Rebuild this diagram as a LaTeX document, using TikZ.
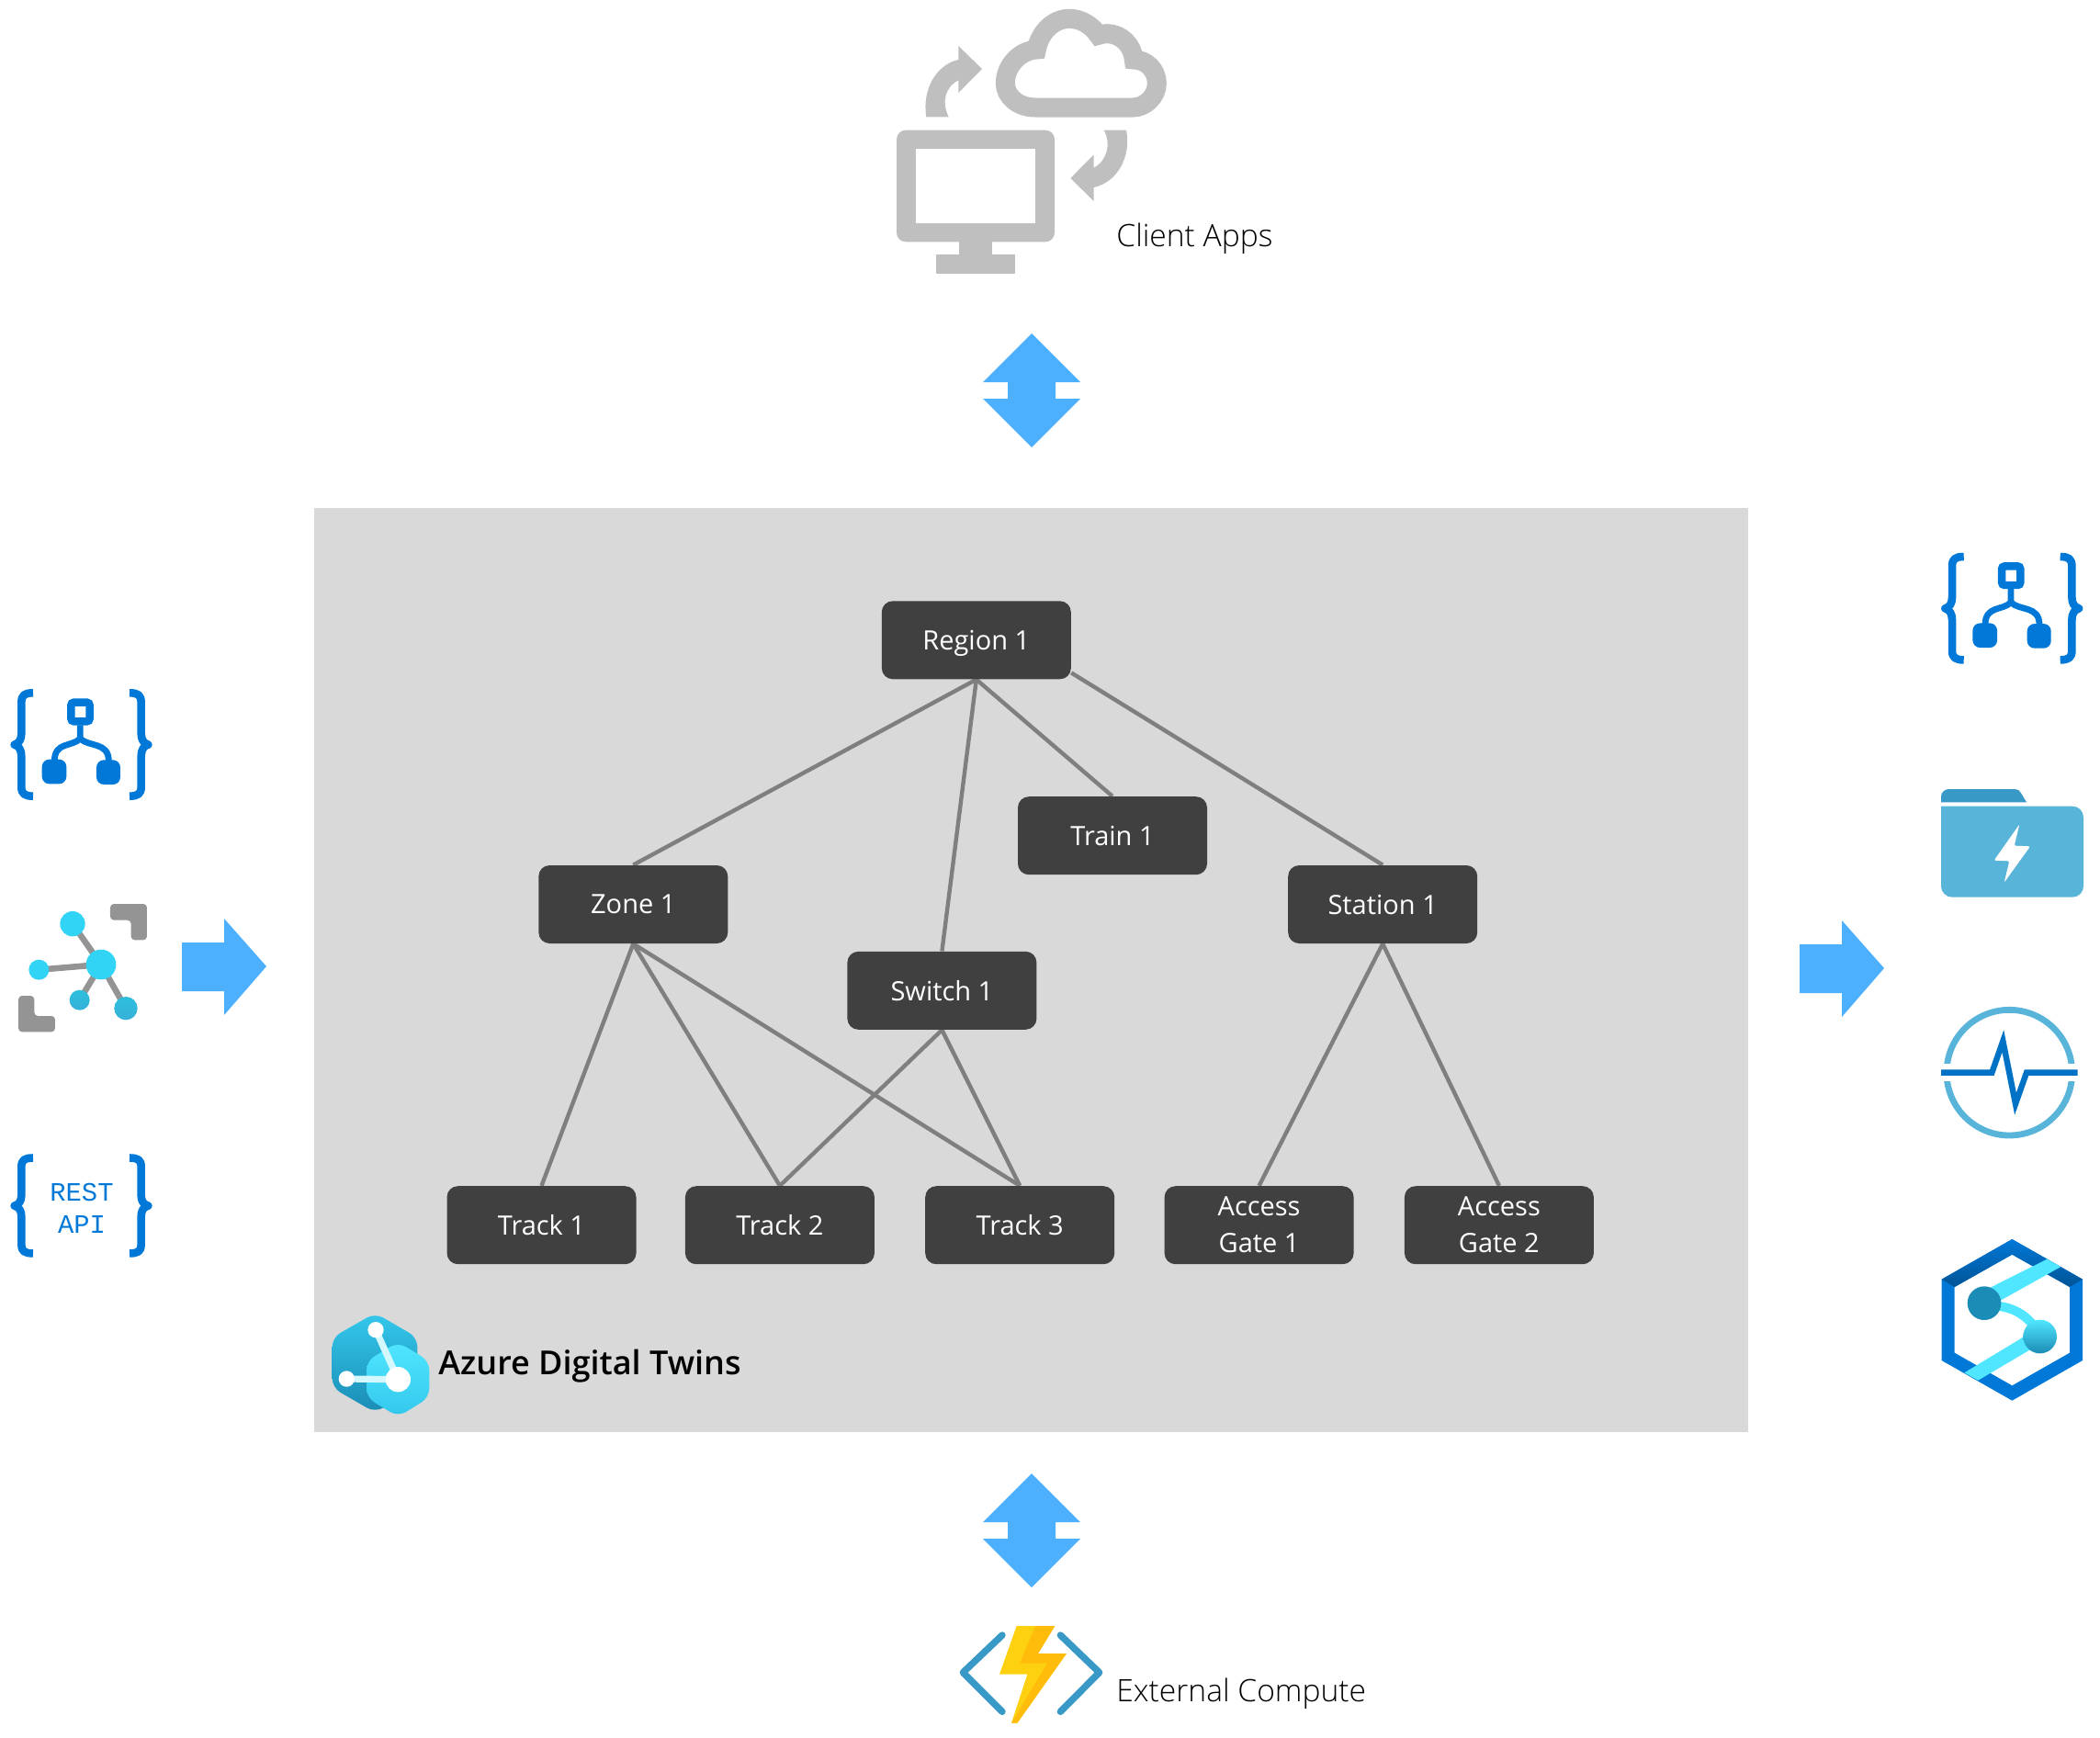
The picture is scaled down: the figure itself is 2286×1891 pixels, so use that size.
\documentclass[tikz,border=0pt]{standalone}
\usepackage{fontspec}
\setmainfont{Open Sans}
\setmonofont{Liberation Mono}
\newfontfamily\lightfont{Open Sans Light}
\newfontfamily\midfont{Open Sans Semibold}
\definecolor{panel}{HTML}{D9D9D9}
\definecolor{boxdark}{HTML}{404040}
\definecolor{linkgrey}{HTML}{7F7F7F}
\definecolor{flow}{HTML}{4DB0FF}
\definecolor{appgrey}{HTML}{BFBFBF}
\definecolor{azblue}{HTML}{0078D7}
\definecolor{azpulse}{HTML}{0072C6}
\definecolor{azsky}{HTML}{59B4D9}
\definecolor{azteal}{HTML}{3999C6}
\definecolor{azdeep}{HTML}{1B8CB5}
\definecolor{azcyan}{HTML}{32D4F5}
\definecolor{azaqua}{HTML}{50E6FF}
\definecolor{cornergrey}{HTML}{949494}
\definecolor{boltlight}{HTML}{FDD10F}
\definecolor{boltdark}{HTML}{FFBC0B}
\pgfdeclarelayer{background layer}
\pgfsetlayers{background layer,main}
\newcommand{\curlypair}{
\draw[azblue, line width=4.3pt, line join=round] (108,73) .. controls (80,73) and (70,80) .. (70,105) -- (70,205) .. controls (70,225) and (62,238) .. (47,242) .. controls (62,246) and (70,259) .. (70,280) -- (70,380) .. controls (70,402) and (80,410) .. (108,410);
\draw[azblue, line width=4.3pt, line join=round] (423,73) .. controls (451,73) and (461,80) .. (461,105) -- (461,205) .. controls (461,225) and (469,238) .. (484,242) .. controls (469,246) and (461,259) .. (461,280) -- (461,380) .. controls (461,402) and (451,410) .. (423,410);
}
\tikzset{
curlies/.pic={\curlypair},
schema/.pic={
\curlypair
\draw[azblue, line width=3.4pt] (262,178) -- (262,222) .. controls (235,250) and (178,232) .. (178,295);
\draw[azblue, line width=3.4pt] (262,222) .. controls (289,250) and (355,232) .. (355,295);
\draw[azblue, line width=4.2pt, rounded corners=1.5pt] (232,104) rectangle (293,166);
\fill[azblue, rounded corners=4pt] (137,290) rectangle (217,370);
\fill[azblue, rounded corners=4pt] (315,292) rectangle (393,372);
},
updown/.pic={
\fill[flow] (53,0) -- (106,53) -- (79,53) -- (79,71) -- (106,71) -- (53,124) -- (0,71) -- (27,71) -- (27,53) -- (0,53) -- cycle;
},
feed/.pic={
\fill[flow] (0,26) -- (46,26) -- (46,0) -- (92,52) -- (46,105) -- (46,79) -- (0,79) -- cycle;
}
}
\begin{document}
\begin{tikzpicture}[x=0.5pt,y=-0.5pt,
twin/.style={fill=boxdark, text=white, rounded corners=6pt, minimum width=103pt, minimum height=42.5pt, inner sep=0pt, align=center, font=\fontsize{14.5}{20}\selectfont},
link/.style={linkgrey, line width=2.2pt},
caption/.style={anchor=base west, inner sep=0pt, font=\lightfont\fontsize{16.8}{20}\selectfont}
]
\useasboundingbox (0,0) rectangle (2286,1891);
\node[twin, text depth=0pt] (region) at (1062.8,696.8) {Region 1};
\node[twin] (zone) at (689.3,984.5) {Zone 1};
\node[twin] (train) at (1211,909.7) {Train 1};
\node[twin] (station) at (1505.2,984.5) {Station 1};
\node[twin] (switch) at (1025.4,1078.3) {Switch 1};
\node[twin] (track1) at (589.5,1333.7) {Track 1};
\node[twin] (track2) at (848.9,1333.7) {Track 2};
\node[twin] (track3) at (1110.2,1333.7) {Track 3};
\node[twin] (gate1) at (1370.6,1333.7) {Access\\Gate 1};
\node[twin] (gate2) at (1631.9,1333.7) {Access\\Gate 2};
\begin{pgfonlayer}{background layer}
\fill[panel] (342,553) rectangle (1903,1559);
\draw[link] (region.south) -- (zone.north);
\draw[link] (region.south) -- (switch.north);
\draw[link] (region.south) -- (train.north);
\draw[link] (region.-19) -- (station.north);
\draw[link] (zone.south) -- (track1.north);
\draw[link] (zone.south) -- (track2.north);
\draw[link] (zone.south) -- (track3.north);
\draw[link] (switch.south) -- (track2.north);
\draw[link] (switch.south) -- (track3.north);
\draw[link] (station.south) -- (gate1.north);
\draw[link] (station.south) -- (gate2.north);
\end{pgfonlayer}
\pic at (1070,363) {updown};
\pic at (1070,1604) {updown};
\pic at (198,1000) {feed};
\pic at (1959,1002) {feed};
\begin{scope}[shift={(950,0)},scale=1/3]
\draw[appgrey, line width=10.5pt] (530,351) .. controls (475,351) and (433,315) .. (433,272) .. controls (433,215) and (480,165) .. (535,162) .. controls (545,105) and (590,61) .. (642,61) .. controls (680,61) and (715,82) .. (737,115) .. controls (745,112) and (755,110) .. (765,110) .. controls (810,110) and (848,145) .. (853,195) .. controls (895,195) and (928,230) .. (928,272) .. controls (928,315) and (890,351) .. (850,351) -- cycle;
\fill[appgrey] (175,382) .. controls (160,290) and (210,210) .. (280,195) -- (280,150) -- (357,225) -- (280,303) -- (280,262) .. controls (235,285) and (225,335) .. (248,382) -- cycle;
\fill[appgrey] (755,425) .. controls (780,470) and (765,525) .. (722,548) -- (722,505) -- (646,582) -- (722,657) -- (722,612) .. controls (800,595) and (845,510) .. (828,425) -- cycle;
\fill[appgrey, rounded corners=5pt] (78,425) rectangle (594,790);
\fill[white] (142,487) rectangle (530,728);
\fill[appgrey] (282,790) rectangle (390,835);
\fill[appgrey] (207,832) rectangle (465,895);
\end{scope}
\node[caption] (clientapps) at (1215,268) {Client Apps};
\pic[scale=1/3] at (0,730) {schema};
\pic[scale=1/3] at (2101.7,581.7) {schema};
\pic[scale=1/3,yscale=.925] at (0,1238) {curlies};
\node[azblue, align=center, inner sep=0pt, font=\ttfamily\fontsize{14.4}{17.5}\selectfont] (restapi) at (89,1315) {REST\\API};
\begin{scope}[shift={(0,730)},scale=1/3]
\fill[cornergrey, rounded corners=2pt] (360,762) -- (480,762) -- (480,880) -- (428,880) -- (428,815) -- (360,815) -- cycle;
\fill[cornergrey, rounded corners=2pt] (60,1062) -- (112,1062) -- (112,1128) -- (180,1128) -- (180,1180) -- (60,1180) -- cycle;
\draw[cornergrey, line width=3.3pt] (237,827) -- (330,960) -- (127,977);
\draw[cornergrey, line width=3.3pt] (260,1076) -- (330,960) -- (411,1103);
\fill[azcyan] (330,960) circle (49);
\fill[azcyan] (237,827) circle (41);
\fill[azcyan] (127,977) circle (33);
\shade[top color=azcyan!90!black, bottom color=azteal!60!azcyan] (260,1076) circle (33);
\shade[top color=azcyan!90!black, bottom color=azteal!60!azcyan] (411,1103) circle (38);
\end{scope}
\begin{scope}[shift={(2080,580)},scale=1/3]
\fill[azteal] (99,880) -- (99,862) .. controls (99,848) and (110,837) .. (125,837) -- (340,837) .. controls (350,837) and (356,842) .. (360,850) -- (378,880) -- cycle;
\fill[azsky] (99,893) [rounded corners=6pt] -- (564,893) -- (564,1190) -- (99,1190) [sharp corners] -- cycle;
\fill[white, rounded corners=1pt] (355,952) -- (338,1022) -- (390,1024) -- (305,1142) -- (322,1072) -- (272,1070) -- cycle;
\end{scope}
\begin{scope}[shift={(2080,1080)},scale=1/3]
\draw[azsky, line width=3.4pt] (322,263) circle (205);
\fill[white] (90,235) rectangle (555,292);
\draw[azpulse, line width=3.2pt, miter limit=20] (99,263) -- (265,263) -- (301,160) -- (342,365) -- (378,263) -- (545,263);
\end{scope}
\begin{scope}[shift={(2080,1080)},scale=1/3]
\fill[azblue, even odd rule] (331,807) -- (561,938) -- (561,1203) -- (331,1334) -- (101,1203) -- (101,938) -- cycle (331,857) -- (519,963) -- (519,1178) -- (331,1285) -- (143,1178) -- (143,963) -- cycle;
\shade[top color=azblue, bottom color=azblue!70!black] (101,938) -- (331,807) -- (561,938) -- (519,963) -- (331,857) -- (143,963) -- cycle;
\fill[azaqua] (445,872) -- (490,897) -- (270,1020) -- (240,975) -- cycle;
\fill[azaqua] (175,1243) -- (220,1268) -- (420,1150) -- (395,1110) -- cycle;
\draw[azaqua, line width=5pt] (280,1025) .. controls (340,1030) and (385,1060) .. (415,1110);
\fill[azdeep] (240,1016) circle (55);
\shade[top color=azaqua, bottom color=azdeep] (422,1125) circle (55);
\end{scope}
\begin{scope}[shift={(340,1410)},scale=1/3]
\shade[top color=azcyan!80!azteal, bottom color=azdeep, rounded corners=5pt] (205,58) -- (343,138) -- (343,302) -- (205,383) -- (65,302) -- (65,138) -- cycle;
\shade[top color=azaqua, bottom color=azcyan!80!azteal, rounded corners=5pt] (280,153) -- (382,215) -- (382,334) -- (280,397) -- (177,334) -- (177,215) -- cycle;
\draw[white!75!azaqua, line width=3.6pt] (207,113) -- (280,275) -- (112,273);
\fill[white] (280,275) circle (41);
\fill[white] (207,113) circle (26);
\fill[white] (112,273) circle (26);
\end{scope}
\node[anchor=base west, inner sep=0pt, font=\midfont\fontsize{18}{20}\selectfont] (adt) at (477,1496) {Azure Digital Twins};
\begin{scope}[shift={(1020,1590)},scale=1/3]
\draw[azteal, line width=3.7pt, line cap=round, line join=round] (213,570) -- (85,692) -- (213,820);
\draw[azteal, line width=3.7pt, line cap=round, line join=round] (403,570) -- (530,692) -- (403,820);
\fill[boltlight] (260,540) -- (385,540) -- (330,630) -- (423,630) -- (262,857) -- (243,857) -- (295,698) -- (204,698) -- cycle;
\fill[boltdark] (322,540) -- (385,540) -- (330,630) -- (423,630) -- (262,857) -- (243,857) -- (360,662) -- (270,662) -- cycle;
\end{scope}
\node[caption] (external) at (1215,1852) {External Compute};
\end{tikzpicture}
\end{document}
